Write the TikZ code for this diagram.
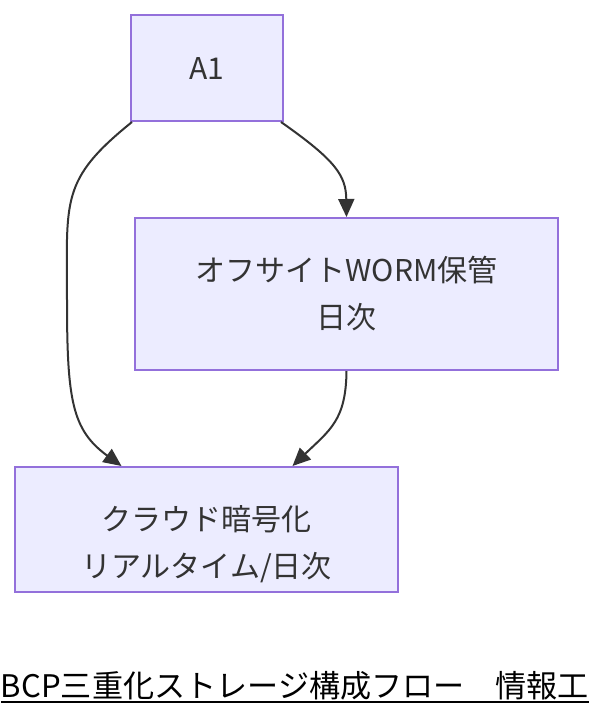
\documentclass[tikz,border=0pt]{standalone}
\usepackage{fontspec}
\setmainfont{Noto Sans CJK JP}
\usetikzlibrary{arrows.meta,positioning}
\definecolor{boxfill}{HTML}{ECECFF}
\definecolor{boxline}{HTML}{9370DB}
\definecolor{ink}{HTML}{333333}
\tikzset
{
    process/.style={rectangle, draw=boxline, fill=boxfill, line width=2pt, align=center, text=ink, font=\fontsize{30}{47}\selectfont},
    boxtext/.style={align=center, text=ink, font=\fontsize{30}{47}\selectfont},
    arrow/.style={line width=2pt, draw=ink, -{Triangle[length=18pt,width=16pt]}},
    title/.style={font=\fontsize{30}{36}\selectfont, text=black, inner sep=0pt}
}

\begin{document}
\begin{tikzpicture}[x=1pt,y=-1pt]
		\useasboundingbox (0,0) rectangle (590,716);
		\node[process, minimum width=152pt, minimum height=106pt] (a1) at (207,68) {A1};
		\node[process, minimum width=423pt, minimum height=152pt] (offsite) at (346.5,294) {オフサイトWORM保管\\日次};
		\node[process, minimum width=383pt, minimum height=125pt] (cloud) at (206.5,529.5) {};
		\node[boxtext] (cloudtext) at ([yshift=-15pt]cloud.center) {クラウド暗号化\\リアルタイム/日次};
		
		\draw[arrow] ([xshift=-3pt]a1.south east) .. controls (335,160) and (346,175) .. (offsite.north);
		\draw[arrow] ([xshift=2pt]a1.south west) .. controls (60,180) and (67,200) .. (67,300)
			.. controls (67,400) and (72,430) .. ([xshift=-85pt]cloud.north);
		\draw[arrow] (offsite.south) .. controls (346,420) and (330,430) .. ([xshift=86pt]cloud.north);
		
		\node[title, anchor=base] (caption) at (295,697) {\resizebox{588pt}{!}{BCP三重化ストレージ構成フロー　情報工}};
		\draw[line width=2.5pt] ([yshift=-5pt]caption.base west) -- ([yshift=-5pt]caption.base east);
\end{tikzpicture}
\end{document}
